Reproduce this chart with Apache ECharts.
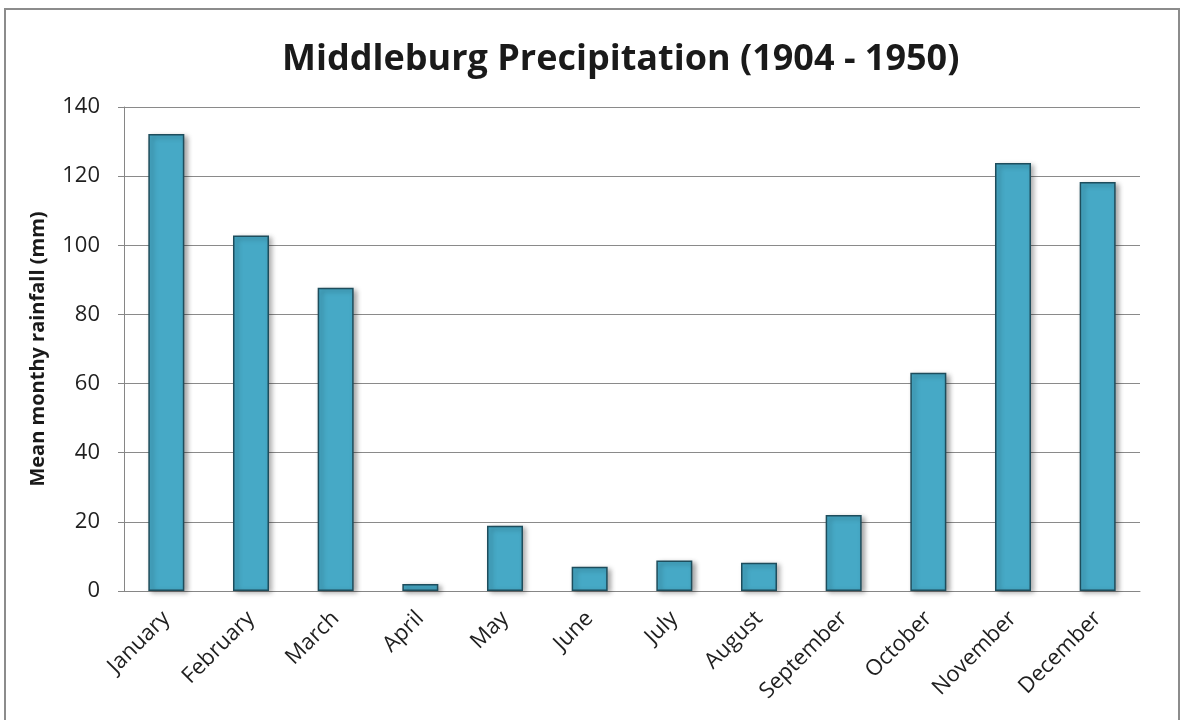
<!DOCTYPE html>
<html>
<head>
<meta charset="utf-8">
<script src="https://cdn.jsdelivr.net/npm/echarts@6/dist/echarts.min.js"></script>
<style>
  html, body { margin: 0; padding: 0; background: #ffffff; }
  #chart { width: 1187px; height: 720px; }
</style>
</head>
<body>
<div id="chart"></div>
<script>
// Mean monthly rainfall at Middleburg, 1904 - 1950
const months = ['January', 'February', 'March', 'April', 'May', 'June',
  'July', 'August', 'September', 'October', 'November', 'December'];
const rainfall = [132.2, 102.8, 87.7, 2.0, 18.9, 7.0, 8.8, 8.2, 22.0, 63.1, 123.8, 118.3];
const yTicks = [0, 20, 40, 60, 80, 100, 120, 140];

const chart = echarts.init(document.getElementById('chart'));
const font = '"Open Sans", "DejaVu Sans", sans-serif';

chart.setOption({
  backgroundColor: '#ffffff',
  animation: false,
  title: {
    text: 'Middleburg Precipitation (1904 - 1950)',
    left: 277,
    top: 37,
    textStyle: { fontFamily: font, fontSize: 36, fontWeight: 'bold', color: '#1a1a1a' }
  },
  graphic: [{
    type: 'rect',
    shape: { x: 5, y: 9, width: 1174, height: 720 },
    style: { fill: 'none', stroke: '#8c8c8c', lineWidth: 2 },
    silent: true
  }],
  grid: { left: 124, right: 47, top: 107, bottom: 129 },
  xAxis: {
    type: 'category',
    data: months,
    axisLine: { lineStyle: { color: '#868686', width: 1 } },
    axisTick: { show: false },
    axisLabel: {
      rotate: 45,
      interval: 0,
      margin: 24,
      fontFamily: font,
      fontSize: 22,
      color: '#1f1f1f'
    }
  },
  yAxis: {
    type: 'value',
    min: yTicks[0],
    max: yTicks[yTicks.length - 1],
    interval: 20,
    name: 'Mean monthy rainfall (mm)',
    nameLocation: 'middle',
    nameGap: 76,
    nameTextStyle: { fontFamily: font, fontSize: 20, fontWeight: 'bold', color: '#1a1a1a' },
    axisLine: { show: true, lineStyle: { color: '#868686', width: 1 } },
    axisTick: { show: true, length: 6, lineStyle: { color: '#868686' } },
    splitLine: { lineStyle: { color: '#8a8a8a', width: 1 } },
    axisLabel: { fontFamily: font, fontSize: 22, color: '#1f1f1f', margin: 24 }
  },
  series: [{
    type: 'bar',
    data: rainfall,
    barWidth: 36,
    itemStyle: {
      color: '#46a9c6',
      borderColor: '#1e4d5c',
      borderWidth: 1.5,
      shadowColor: 'rgba(0,0,0,0.35)',
      shadowBlur: 5,
      shadowOffsetX: 3,
      shadowOffsetY: 2
    }
  }]
});
</script>
</body>
</html>
